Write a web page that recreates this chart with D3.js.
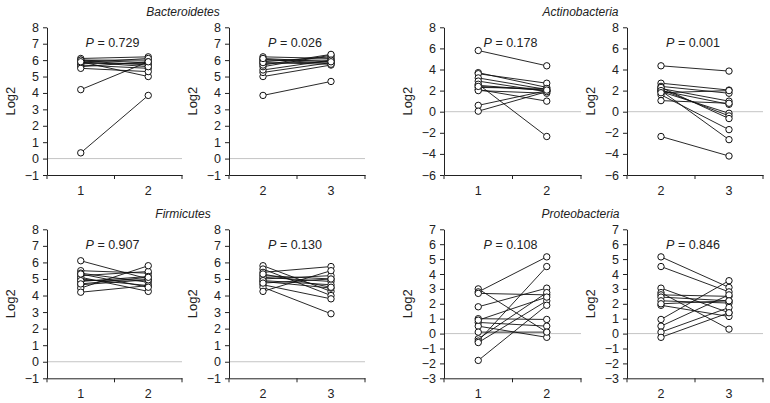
<!DOCTYPE html>
<html><head><meta charset="utf-8">
<script src="https://cdn.jsdelivr.net/npm/d3@7"></script>
<style>
body{margin:0;background:#fff;}
svg text{font-family:"Liberation Sans",Arial,sans-serif;fill:#222;}
</style></head>
<body><svg id="c" width="770" height="403"></svg>
<script>
// ---- data ----
const groupTitles = ["Bacteroidetes", "Actinobacteria", "Firmicutes", "Proteobacteria"];
const pValues = ["0.729", "0.026", "0.178", "0.001", "0.907", "0.130", "0.108", "0.846"];
const catsA = ["1", "2"];
const catsB = ["2", "3"];

const bactA1 = [6.1, 6.0, 5.95, 5.9, 5.85, 5.8, 5.7, 5.6, 5.5, 6.0, 5.9, 4.2, 0.35];
const bactA2 = [6.2, 6.0, 5.7, 5.0, 6.1, 5.8, 5.5, 5.9, 5.3, 5.85, 5.6, 5.9, 3.85];
const bactB1 = [3.85, 5.0, 5.25, 5.4, 5.6, 5.8, 5.9, 6.05, 6.2, 5.7, 6.0, 5.85, 6.1];
const bactB2 = [4.7, 5.7, 5.85, 6.0, 6.3, 5.9, 6.2, 5.8, 6.1, 6.35, 6.0, 5.75, 5.9];

const actA1 = [5.8, 3.7, 3.6, 3.2, 2.9, 2.5, 2.6, 2.3, 2.1, 2.0, 0.6, 0.05, 2.4];
const actA2 = [4.35, 2.3, 2.7, 2.1, 1.9, 2.0, -2.35, 2.2, 1.0, 1.75, 2.0, 1.9, 2.05];
const actB1 = [4.35, 2.7, 2.4, 2.2, 2.0, 1.9, 2.1, 2.3, 1.6, 2.0, 1.05, -2.35, 1.8];
const actB2 = [3.85, 2.05, 1.75, 1.0, 0.7, -0.15, -0.4, -0.65, -1.7, -2.65, 0.8, -4.2, 2.0];

const firA1 = [6.1, 5.5, 5.35, 5.2, 5.0, 4.85, 4.65, 4.45, 4.2, 5.1, 4.9, 4.7, 5.3];
const firA2 = [5.0, 5.35, 4.8, 5.45, 4.6, 5.15, 4.95, 5.8, 4.6, 4.25, 4.95, 5.1, 4.5];
const firB1 = [5.8, 5.6, 5.4, 5.2, 5.0, 4.85, 4.65, 4.5, 4.25, 5.1, 4.9, 4.75, 5.3];
const firB2 = [4.25, 4.0, 5.75, 5.0, 5.2, 4.45, 3.8, 2.9, 5.5, 4.85, 4.65, 5.0, 4.5];

const proA1 = [3.0, 2.8, 2.7, 1.8, 1.0, 0.75, 0.5, 0.1, -0.35, -0.5, -0.6, -1.8, 0.9];
const proA2 = [0.1, 5.15, 2.6, 3.05, 0.95, 0.5, -0.25, 0.1, 2.75, 4.5, 2.2, 1.9, 2.45];
const proB1 = [5.15, 4.5, 3.05, 2.75, 2.6, 2.45, 2.2, 1.9, 0.95, 0.5, 0.1, -0.25, 2.0];
const proB2 = [3.1, 2.8, 1.4, 0.3, 2.5, 2.2, 2.05, 1.15, 3.55, 2.6, 1.75, 1.4, 2.2];

const yTicksA = [-1, 0, 1, 2, 3, 4, 5, 6, 7, 8];
const yTicksB = [-6, -4, -2, 0, 2, 4, 6, 8];
const yTicksC = [-3, -2, -1, 0, 1, 2, 3, 4, 5, 6, 7];

// ---- layout ----
const svg = d3.select("#c");
const colX = [[47, 182], [229, 365], [444, 581], [627, 763]];
const rowY = [[175, 27.3], [378.3, 229.3]];

const panels = [
  {row:0, col:0, cats:catsA, v1:bactA1, v2:bactA2, ticks:yTicksA, p:pValues[0]},
  {row:0, col:1, cats:catsB, v1:bactB1, v2:bactB2, ticks:yTicksA, p:pValues[1]},
  {row:0, col:2, cats:catsA, v1:actA1, v2:actA2, ticks:yTicksB, p:pValues[2]},
  {row:0, col:3, cats:catsB, v1:actB1, v2:actB2, ticks:yTicksB, p:pValues[3]},
  {row:1, col:0, cats:catsA, v1:firA1, v2:firA2, ticks:yTicksA, p:pValues[4]},
  {row:1, col:1, cats:catsB, v1:firB1, v2:firB2, ticks:yTicksA, p:pValues[5]},
  {row:1, col:2, cats:catsA, v1:proA1, v2:proA2, ticks:yTicksC, p:pValues[6]},
  {row:1, col:3, cats:catsB, v1:proB1, v2:proB2, ticks:yTicksC, p:pValues[7]},
];

panels.forEach(pn => {
  const [x0, x1] = colX[pn.col];
  const [yb, yt] = rowY[pn.row];
  const x = d3.scaleBand().domain(pn.cats).range([x0, x1]).padding(0);
  const y = d3.scaleLinear().domain(d3.extent(pn.ticks)).range([yb, yt]);
  const g = svg.append("g");

  // zero line
  g.append("line").attr("x1", x0).attr("x2", x1).attr("y1", y(0)).attr("y2", y(0))
    .attr("stroke", "#c4c4c4").attr("stroke-width", 1);

  // y axis
  const ya = g.append("g").attr("transform", `translate(${x0},0)`)
    .call(d3.axisLeft(y).tickValues(pn.ticks).tickSize(4).tickSizeOuter(0).tickPadding(4).tickFormat(d3.format("d")));
  ya.selectAll("text").style("font-size", "12.5px").attr("fill", "#222");
  ya.selectAll("line,path").attr("stroke", "#222");

  // x axis
  const xa = g.append("g").attr("transform", `translate(0,${yb})`)
    .call(d3.axisBottom(x).tickSize(0).tickSizeOuter(0).tickPadding(11));
  xa.selectAll("text").style("font-size", "12.5px").attr("fill", "#222");
  xa.select("path").attr("stroke", "#222");
  const bounds = [x0, x(pn.cats[1]), x1];
  xa.selectAll("line.bt").data(bounds).enter().append("line")
    .attr("x1", d => d).attr("x2", d => d).attr("y1", 0).attr("y2", 4).attr("stroke", "#222");

  // y label
  g.append("text").attr("transform", `translate(${x0 - 32},${(yb + yt) / 2}) rotate(-90)`)
    .attr("text-anchor", "middle").style("font-size", "13px").text("Log2");

  // P label
  const pt = g.append("text").attr("x", (x0 + x1) / 2 - 2).attr("y", yt + 20)
    .attr("text-anchor", "middle").style("font-size", "12.5px");
  pt.append("tspan").style("font-style", "italic").text("P");
  pt.append("tspan").text(" = " + pn.p);

  // lines & points
  const cx1 = x(pn.cats[0]) + x.bandwidth() / 2, cx2 = x(pn.cats[1]) + x.bandwidth() / 2;
  const pairs = pn.v1.map((v, i) => [v, pn.v2[i]]);
  g.selectAll("line.pair").data(pairs).enter().append("line")
    .attr("x1", cx1).attr("x2", cx2).attr("y1", d => y(d[0])).attr("y2", d => y(d[1]))
    .attr("stroke", "#111").attr("stroke-width", 0.9);
  g.selectAll("circle.a").data(pn.v1).enter().append("circle")
    .attr("cx", cx1).attr("cy", d => y(d)).attr("r", 3.2)
    .attr("fill", "#fff").attr("stroke", "#111").attr("stroke-width", 1);
  g.selectAll("circle.b").data(pn.v2).enter().append("circle")
    .attr("cx", cx2).attr("cy", d => y(d)).attr("r", 3.2)
    .attr("fill", "#fff").attr("stroke", "#111").attr("stroke-width", 1);
});

// group titles
groupTitles.forEach((t, i) => {
  const row = Math.floor(i / 2), c = (i % 2) * 2;
  const cx = (colX[c][0] + colX[c + 1][1]) / 2 - 23;
  svg.append("text").attr("x", cx).attr("y", rowY[row][1] - 11)
    .attr("text-anchor", "middle").style("font-size", "12px").style("font-style", "italic").text(t);
});
</script></body></html>
